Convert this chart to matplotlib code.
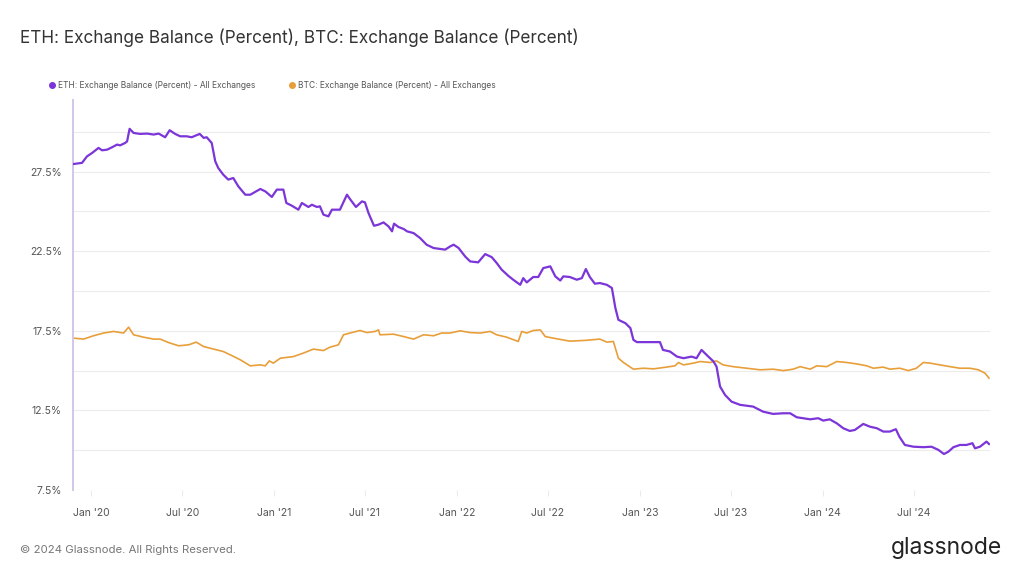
import matplotlib
matplotlib.use("Agg")
import matplotlib.pyplot as plt
import matplotlib.dates as mdates
from matplotlib.lines import Line2D
import pandas as pd

plt.rcParams['font.family'] = ['Inter', 'DejaVu Sans']

title = "ETH: Exchange Balance (Percent), BTC: Exchange Balance (Percent)"
eth_label = "ETH: Exchange Balance (Percent) - All Exchanges"
btc_label = "BTC: Exchange Balance (Percent) - All Exchanges"

# values (percent of supply on exchanges)
eth_dates = [
    "2019-11-27", "2019-12-14", "2019-12-24", "2020-01-03", "2020-01-16", "2020-01-23",
    "2020-02-02", "2020-02-12", "2020-02-22", "2020-02-28", "2020-03-09", "2020-03-13",
    "2020-03-18", "2020-03-26", "2020-04-08", "2020-04-22", "2020-05-05", "2020-05-15",
    "2020-05-28", "2020-06-06", "2020-06-17", "2020-06-27", "2020-07-10", "2020-07-20",
    "2020-08-05", "2020-08-13", "2020-08-19", "2020-08-29", "2020-09-05", "2020-09-11",
    "2020-09-21", "2020-10-01", "2020-10-11", "2020-10-21", "2020-11-04", "2020-11-14",
    "2020-12-04", "2020-12-14", "2020-12-27", "2021-01-06", "2021-01-19", "2021-01-25",
    "2021-02-05", "2021-02-18", "2021-02-25", "2021-03-10", "2021-03-17", "2021-03-27",
    "2021-04-02", "2021-04-09", "2021-04-19", "2021-04-26", "2021-05-12", "2021-05-26",
    "2021-06-01", "2021-06-13", "2021-06-25", "2021-07-01", "2021-07-08", "2021-07-19",
    "2021-07-28", "2021-08-07", "2021-08-17", "2021-08-24", "2021-08-28", "2021-09-06",
    "2021-09-16", "2021-09-23", "2021-10-06", "2021-10-19", "2021-11-01", "2021-11-15",
    "2021-11-28", "2021-12-08", "2021-12-18", "2021-12-25", "2022-01-04", "2022-01-17",
    "2022-01-27", "2022-02-12", "2022-02-26", "2022-03-11", "2022-03-21", "2022-03-31",
    "2022-04-13", "2022-04-23", "2022-05-07", "2022-05-13", "2022-05-20", "2022-06-02",
    "2022-06-12", "2022-06-22", "2022-07-06", "2022-07-16", "2022-07-26", "2022-08-01",
    "2022-08-14", "2022-08-28", "2022-09-07", "2022-09-15", "2022-09-23", "2022-10-03",
    "2022-10-13", "2022-10-27", "2022-11-06", "2022-11-13", "2022-11-19", "2022-12-03",
    "2022-12-13", "2022-12-19", "2022-12-26", "2023-01-15", "2023-02-10", "2023-02-16",
    "2023-03-02", "2023-03-16", "2023-03-29", "2023-04-14", "2023-04-24", "2023-05-04",
    "2023-05-14", "2023-05-28", "2023-06-03", "2023-06-10", "2023-06-20", "2023-07-03",
    "2023-07-20", "2023-08-15", "2023-09-04", "2023-09-24", "2023-10-14", "2023-10-28",
    "2023-11-10", "2023-11-23", "2023-12-07", "2023-12-23", "2024-01-02", "2024-01-15",
    "2024-01-29", "2024-02-11", "2024-02-24", "2024-03-05", "2024-03-22", "2024-04-04",
    "2024-04-18", "2024-05-01", "2024-05-14", "2024-05-26", "2024-06-02", "2024-06-13",
    "2024-06-30", "2024-07-20", "2024-08-05", "2024-08-19", "2024-08-30", "2024-09-08",
    "2024-09-18", "2024-10-01", "2024-10-14", "2024-10-26", "2024-10-31", "2024-11-10",
    "2024-11-23", "2024-11-28",
]
eth_values = [
    27.98, 28.05, 28.46, 28.67, 28.99, 28.84,
    28.88, 29.03, 29.20, 29.15, 29.30, 29.40,
    30.19, 29.93, 29.87, 29.89, 29.83, 29.89,
    29.66, 30.10, 29.87, 29.72, 29.72, 29.66,
    29.87, 29.62, 29.66, 29.30, 28.15, 27.73,
    27.31, 27.00, 27.10, 26.58, 26.05, 26.05,
    26.41, 26.26, 25.91, 26.37, 26.37, 25.53,
    25.36, 25.11, 25.53, 25.28, 25.42, 25.28,
    25.32, 24.80, 24.69, 25.11, 25.11, 26.05,
    25.78, 25.28, 25.63, 25.57, 24.90, 24.10,
    24.17, 24.31, 24.06, 23.75, 24.23, 24.02,
    23.90, 23.75, 23.64, 23.33, 22.91, 22.70,
    22.64, 22.60, 22.80, 22.91, 22.70, 22.17,
    21.86, 21.80, 22.32, 22.13, 21.76, 21.34,
    20.96, 20.71, 20.39, 20.81, 20.54, 20.88,
    20.88, 21.44, 21.55, 20.92, 20.66, 20.92,
    20.88, 20.71, 20.81, 21.38, 20.88, 20.46,
    20.50, 20.39, 20.19, 18.93, 18.19, 17.98,
    17.67, 16.93, 16.79, 16.79, 16.79, 16.30,
    16.20, 15.88, 15.78, 15.88, 15.78, 16.30,
    15.99, 15.57, 15.25, 14.00, 13.47, 13.05,
    12.85, 12.74, 12.42, 12.28, 12.32, 12.32,
    12.07, 12.01, 11.94, 12.01, 11.86, 11.94,
    11.69, 11.38, 11.21, 11.27, 11.65, 11.48,
    11.38, 11.17, 11.17, 11.32, 10.85, 10.33,
    10.22, 10.19, 10.22, 10.02, 9.76, 9.91,
    10.19, 10.33, 10.33, 10.44, 10.12, 10.22,
    10.54, 10.39,
]

btc_dates = [
    "2019-11-27", "2019-12-17", "2020-01-06", "2020-01-26", "2020-02-15", "2020-03-06",
    "2020-03-16", "2020-03-26", "2020-04-15", "2020-05-05", "2020-05-18", "2020-06-04",
    "2020-06-24", "2020-07-14", "2020-07-29", "2020-08-13", "2020-09-02", "2020-09-21",
    "2020-10-05", "2020-10-25", "2020-11-14", "2020-12-04", "2020-12-14", "2020-12-22",
    "2020-12-30", "2021-01-13", "2021-02-08", "2021-02-28", "2021-03-20", "2021-04-09",
    "2021-04-22", "2021-05-09", "2021-05-19", "2021-06-01", "2021-06-21", "2021-07-05",
    "2021-07-21", "2021-07-28", "2021-07-31", "2021-08-27", "2021-09-16", "2021-10-06",
    "2021-10-26", "2021-11-15", "2021-12-01", "2021-12-18", "2022-01-07", "2022-01-27",
    "2022-02-16", "2022-03-08", "2022-03-21", "2022-04-10", "2022-05-03", "2022-05-10",
    "2022-05-20", "2022-06-02", "2022-06-16", "2022-06-26", "2022-07-12", "2022-08-14",
    "2022-09-14", "2022-10-13", "2022-10-27", "2022-11-09", "2022-11-19", "2022-11-29",
    "2022-12-19", "2023-01-08", "2023-01-28", "2023-02-23", "2023-03-12", "2023-03-19",
    "2023-03-29", "2023-04-18", "2023-05-01", "2023-05-21", "2023-06-03", "2023-06-16",
    "2023-07-06", "2023-08-02", "2023-08-29", "2023-09-24", "2023-10-14", "2023-11-03",
    "2023-11-17", "2023-12-07", "2023-12-20", "2024-01-09", "2024-01-29", "2024-02-18",
    "2024-03-09", "2024-03-29", "2024-04-11", "2024-05-01", "2024-05-14", "2024-06-03",
    "2024-06-20", "2024-07-06", "2024-07-20", "2024-08-02", "2024-08-22", "2024-09-11",
    "2024-10-01", "2024-10-21", "2024-11-07", "2024-11-20", "2024-11-28",
]
btc_values = [
    17.04, 16.98, 17.19, 17.36, 17.46, 17.36,
    17.73, 17.25, 17.10, 16.98, 16.98, 16.76,
    16.56, 16.62, 16.79, 16.51, 16.35, 16.20,
    15.99, 15.68, 15.30, 15.36, 15.30, 15.61,
    15.47, 15.78, 15.88, 16.10, 16.35, 16.26,
    16.47, 16.62, 17.25, 17.36, 17.52, 17.39,
    17.46, 17.56, 17.25, 17.29, 17.14, 16.98,
    17.25, 17.19, 17.36, 17.36, 17.50, 17.39,
    17.36, 17.46, 17.25, 17.10, 16.83, 17.46,
    17.36, 17.52, 17.56, 17.14, 17.04, 16.85,
    16.90, 16.98, 16.79, 16.83, 15.78, 15.51,
    15.09, 15.15, 15.11, 15.22, 15.30, 15.51,
    15.36, 15.47, 15.57, 15.51, 15.61, 15.36,
    15.25, 15.15, 15.05, 15.09, 15.00, 15.09,
    15.25, 15.09, 15.30, 15.25, 15.57, 15.51,
    15.42, 15.30, 15.15, 15.22, 15.09, 15.15,
    15.00, 15.15, 15.51, 15.47, 15.36, 15.25,
    15.15, 15.15, 15.05, 14.84, 14.53,
]

y_ticks = [7.5, 12.5, 17.5, 22.5, 27.5]
y_grid = [7.5, 10, 12.5, 15, 17.5, 20, 22.5, 25, 27.5, 30]

eth_color = "#7b35d8"
btc_color = "#e89f3a"
label_color = "#555555"

fig = plt.figure(figsize=(10.24, 5.76), dpi=100)
ax = fig.add_axes([73 / 1024, 1 - 490 / 576, (990 - 73) / 1024, 390 / 576])

for g in y_grid:
    ax.axhline(g, color="#ececec", lw=0.8, zorder=0)

ax.plot(pd.to_datetime(btc_dates), btc_values, color=btc_color, lw=1.2, zorder=2)
ax.plot(pd.to_datetime(eth_dates), eth_values, color=eth_color, lw=1.6, zorder=3)

ax.set_xlim(pd.Timestamp("2019-11-26"), pd.Timestamp("2024-11-30"))
ax.set_ylim(7.5, 32.0)

ax.set_yticks(y_ticks)
ax.set_yticklabels([f"{v}%" for v in y_ticks])
ax.xaxis.set_major_locator(mdates.MonthLocator(bymonth=[1, 7]))
ax.xaxis.set_major_formatter(mdates.DateFormatter("%b '%y"))

ax.tick_params(axis="y", length=0, pad=8, labelsize=7.5, labelcolor=label_color)
ax.tick_params(axis="x", length=4, width=0.6, color="#e6e6e6", pad=9,
               labelsize=7.5, labelcolor=label_color)

for side in ["top", "right", "bottom"]:
    ax.spines[side].set_visible(False)
ax.spines["left"].set_color("#d2c6ea")
ax.spines["left"].set_linewidth(1.4)

fig.text(20 / 1024, 1 - 38 / 576, title, fontsize=12.35, color="#333333",
         ha="left", va="center")

handles = [
    Line2D([], [], ls="none", marker="o", markersize=4, color=eth_color),
    Line2D([], [], ls="none", marker="o", markersize=4, color=btc_color),
]
fig.legend(handles, [eth_label, btc_label], loc="center left",
           bbox_to_anchor=(40 / 1024, 1 - 85 / 576), ncol=2, frameon=False,
           fontsize=6.05, handletextpad=0.2, columnspacing=3.9,
           handlelength=1.0, labelcolor="#555555")

fig.text(20 / 1024, 1 - 550 / 576, "\u00a9 2024 Glassnode. All Rights Reserved.",
         fontsize=8.2, color="#777777", ha="left", va="center")
fig.text(1002 / 1024, 1 - 548 / 576, "glassnode", fontsize=16.5, color="#222222",
         ha="right", va="center")

fig.savefig("out.png", dpi=100, facecolor="white")
